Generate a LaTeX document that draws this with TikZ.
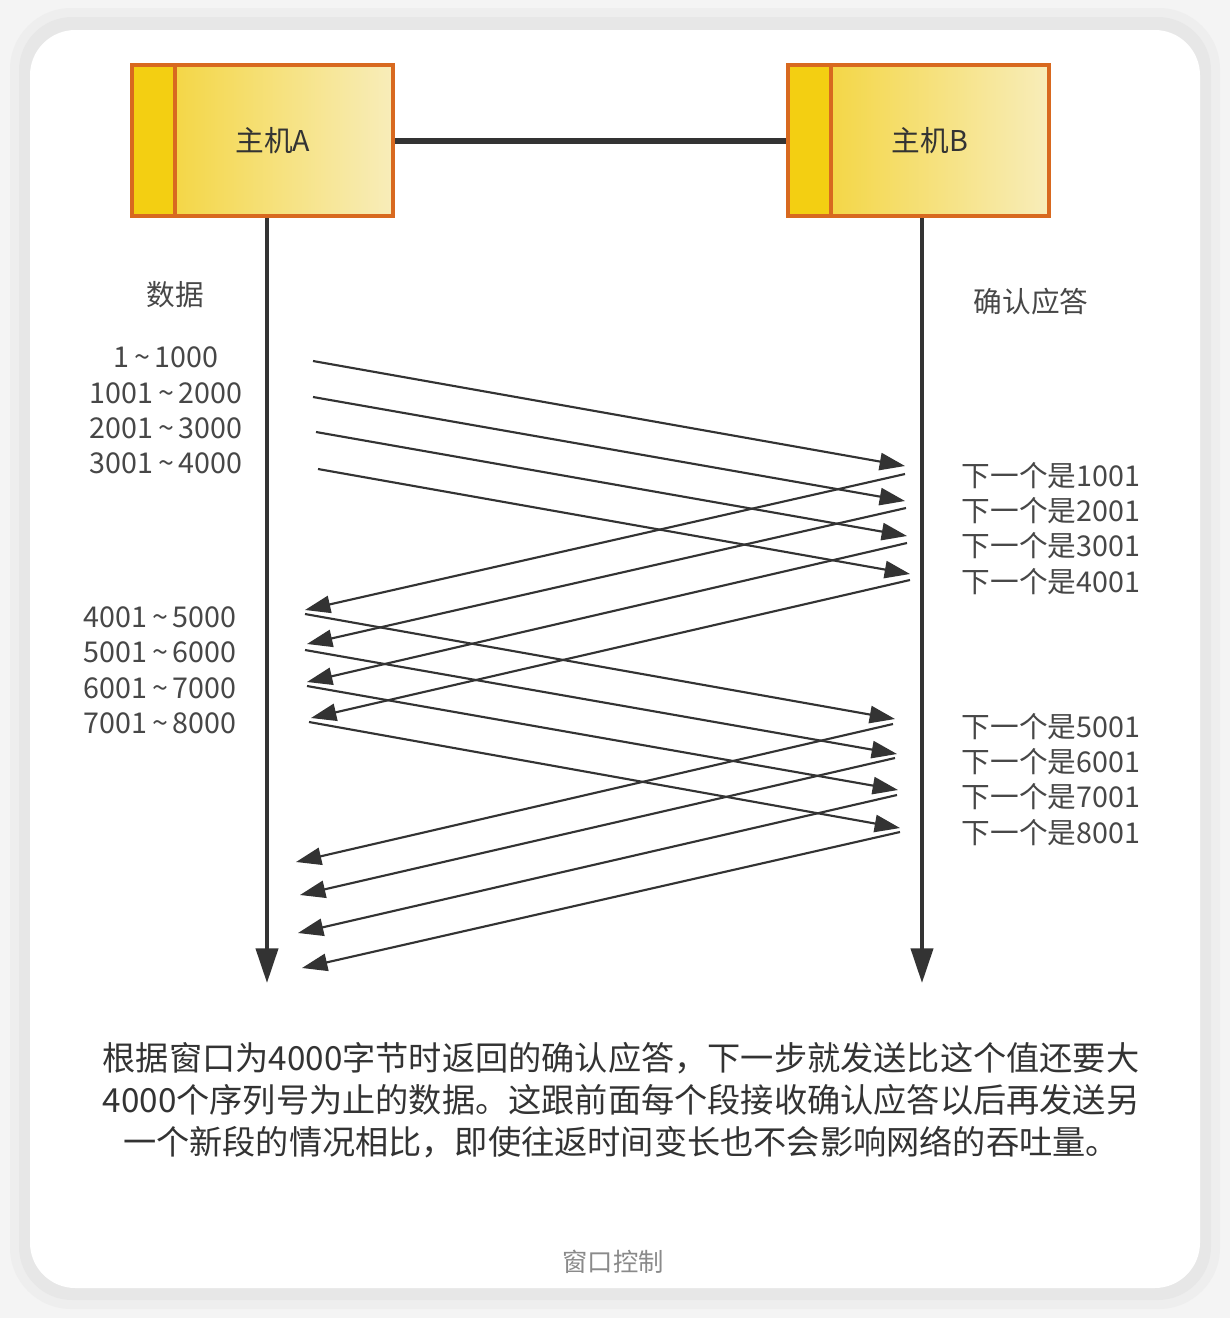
\documentclass[tikz,border=0pt]{standalone}
\usepackage{fontspec}
\newfontfamily\cjk{Noto Sans CJK SC}
\usetikzlibrary{arrows.meta}
\definecolor{pagegray}{HTML}{F4F4F4}
\definecolor{shadowlight}{HTML}{EEEEEE}
\definecolor{shadowgray}{HTML}{E7E7E7}
\definecolor{hostedge}{HTML}{D8691F}
\definecolor{hoststrip}{HTML}{F3CF12}
\definecolor{hostdeep}{HTML}{F3D230}
\definecolor{hostpale}{HTML}{F8EDBA}
\definecolor{ink}{HTML}{333333}
\definecolor{labelink}{HTML}{474747}
\definecolor{captiongray}{HTML}{8A8A8A}
\tikzset{
  hostbox/.style={draw=hostedge,line width=2.8pt,left color=hostdeep,right color=hostpale,
    minimum width=196pt,minimum height=113.5pt,inner sep=0pt,
    path picture={
      \fill[hoststrip] (path picture bounding box.north west) rectangle
        ([xshift=32.6pt]path picture bounding box.south west);
      \draw[hostedge,line width=2.8pt] ([xshift=32.6pt]path picture bounding box.north west) --
        ([xshift=32.6pt]path picture bounding box.south west);}},
  hosttext/.style={font=\cjk\fontsize{21.5}{26}\selectfont,text=ink},
  seqlabel/.style={font=\cjk\fontsize{21.5}{25}\selectfont,text=labelink},
  acklabel/.style={seqlabel,anchor=west},
  msg/.style={-{Triangle[length=19pt,width=13pt]},draw=ink,line width=1.6pt},
  lifeline/.style={-{Triangle[length=26pt,width=16.5pt]},draw=ink,line width=3pt},
  link/.style={draw=ink,line width=4.5pt},
  note/.style={font=\cjk\fontsize{24.9}{31.5}\selectfont,text=ink,align=center},
  caption/.style={font=\cjk\fontsize{19}{22}\selectfont,text=captiongray},
}
\newcommand\upto{\,\textasciitilde\,}
\begin{document}
\begin{tikzpicture}[x=0.75pt,y=-0.75pt]
\useasboundingbox (0,0) rectangle (1230,1318);

% card
\fill[pagegray] (0,0) rectangle (1230,1318);
\fill[shadowlight,rounded corners=46pt] (10,8) rectangle (1220,1309);
\fill[shadowgray,rounded corners=40pt] (19,17) rectangle (1211,1300);
\fill[white,rounded corners=34pt] (30,30) rectangle (1200,1288);

% hosts
\node[hostbox] (hostA) at (262.5,140.5) {};
\node[hostbox] (hostB) at (918.5,140.5) {};
\node[hosttext] (hostAtext) at (273,141) {主机A};
\node[hosttext] (hostBtext) at (930,141) {主机B};
\draw[link] (hostA) -- (hostB);

\coordinate (endA) at (267,983);
\coordinate (endB) at (922,983);
\draw[lifeline] (hostA.south -| endA) -- (endA);
\draw[lifeline] (hostB.south -| endB) -- (endB);

\node[seqlabel] (datahead) at (175,295) {数据};
\node[seqlabel] (ackhead) at (1031,302) {确认应答};

% first window
\node[seqlabel] (sent1) at (166,357) {1\upto1000};
\node[seqlabel] (sent2) at (166,393) {1001\upto2000};
\node[seqlabel] (sent3) at (166,428) {2001\upto3000};
\node[seqlabel] (sent4) at (166,463) {3001\upto4000};
\node[acklabel] (ack1) at (957,476) {下一个是1001};
\node[acklabel] (ack2) at (957,511) {下一个是2001};
\node[acklabel] (ack3) at (957,546) {下一个是3001};
\node[acklabel] (ack4) at (957,582) {下一个是4001};

% second window
\node[seqlabel] (sent5) at (160,617) {4001\upto5000};
\node[seqlabel] (sent6) at (160,652) {5001\upto6000};
\node[seqlabel] (sent7) at (160,688) {6001\upto7000};
\node[seqlabel] (sent8) at (160,723) {7001\upto8000};
\node[acklabel] (ack5) at (957,727) {下一个是5001};
\node[acklabel] (ack6) at (957,762) {下一个是6001};
\node[acklabel] (ack7) at (957,797) {下一个是7001};
\node[acklabel] (ack8) at (957,833) {下一个是8001};

% segments A -> B
\foreach \sx/\sy/\ex/\ey [count=\k] in {313/361/905/466,313/397/905/501,316/432/907/536,318/469/910/574,
    305/614/895/719,305/650/897/754,307/686/898/790,309/722/900/828} {
  \coordinate (segS\k) at (\sx,\sy);
  \coordinate (segE\k) at (\ex,\ey);
  \draw[msg] (segS\k) -- (segE\k);
}
% acknowledgements B -> A
\foreach \sx/\sy/\ex/\ey [count=\k] in {905/474/305/610,906/508/307/644,907/543/307/682,910/580/311/718,
    893/724/296/862,895/758/300/895,897/795/298/933,900/832/302/968} {
  \coordinate (ackS\k) at (\sx,\sy);
  \coordinate (ackE\k) at (\ex,\ey);
  \draw[msg] (ackS\k) -- (ackE\k);
}

\node[note] (summary) at (621,1100)
  {根据窗口为4000字节时返回的确认应答，下一步就发送比这个值还要大\\
   4000个序列号为止的数据。这跟前面每个段接收确认应答以后再发送另\\
   一个新段的情况相比，即使往返时间变长也不会影响网络的吞吐量。};
\node[caption] (title) at (613,1262) {窗口控制};
\end{tikzpicture}
\end{document}
